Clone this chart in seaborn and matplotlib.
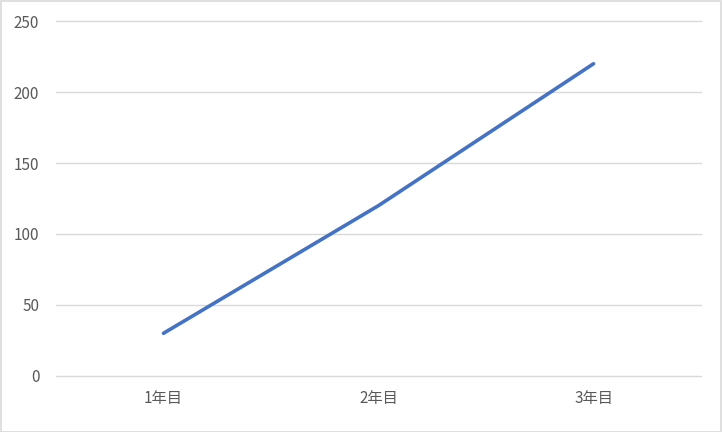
import matplotlib
matplotlib.use("Agg")
import matplotlib.pyplot as plt
import seaborn as sns
import pandas as pd
from matplotlib.patches import Rectangle

categories = ["1年目", "2年目", "3年目"]
values = [30, 120, 220]
yticks = [0, 50, 100, 150, 200, 250]

sns.set_theme(style="white")
plt.rcParams['font.family'] = ['Noto Sans CJK JP', 'DejaVu Sans']

df = pd.DataFrame({"cat": categories, "val": values})

fig = plt.figure(figsize=(7.22, 4.32), dpi=100)
ax = fig.add_axes([0.0775, 0.130, 0.8935, 0.821])

sns.lineplot(data=df, x="cat", y="val", ax=ax, color="#4472C4", linewidth=2.6,
             sort=False, solid_capstyle="round")

ax.set_xlim(-0.5, 2.5)
ax.set_ylim(0, 250)
ax.set_yticks(yticks)
ax.set_yticklabels([str(t) for t in yticks])
ax.set_xlabel("")
ax.set_ylabel("")
ax.grid(axis="y", color="#D9D9D9", linewidth=1.0)
for gl in ax.get_ygridlines():
    gl.set_clip_on(False)
ax.set_axisbelow(True)
for s in ax.spines.values():
    s.set_visible(False)
ax.tick_params(axis="both", length=0, colors="#595959", labelsize=11)
ax.tick_params(axis="y", pad=12)
ax.tick_params(axis="x", pad=10)

fig.patches.append(Rectangle((0.001, 0.001), 0.997, 0.996, transform=fig.transFigure,
                             fill=False, edgecolor="#D9D9D9", linewidth=1.2))

fig.savefig("out.png", dpi=100)
